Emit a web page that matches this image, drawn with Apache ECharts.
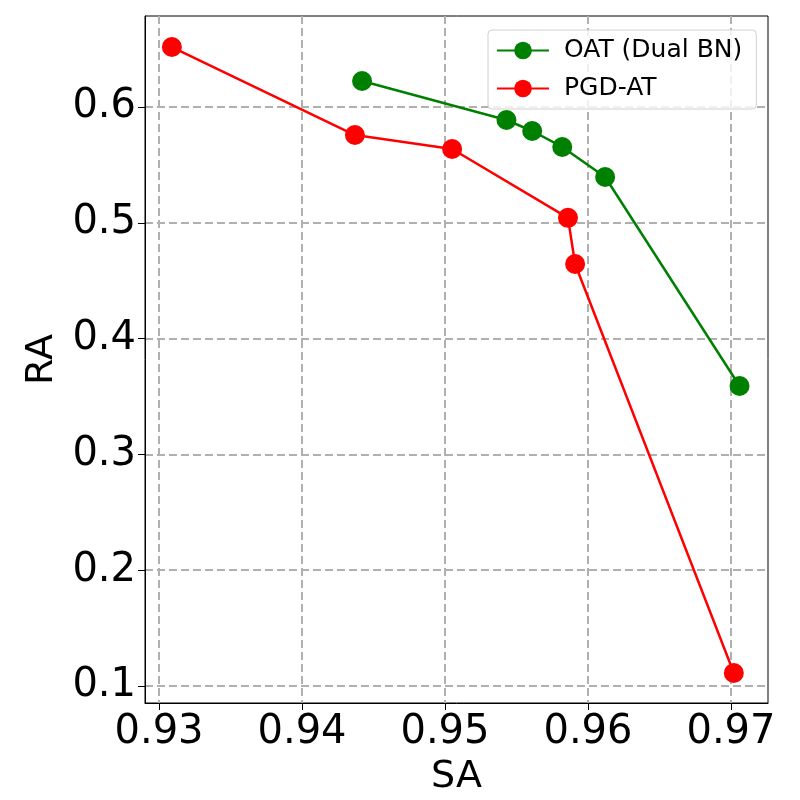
<!DOCTYPE html>
<html><head><meta charset="utf-8">
<script src="https://cdn.jsdelivr.net/npm/echarts@6/dist/echarts.min.js"></script>
<style>html,body{margin:0;padding:0;background:#fff}#c{width:800px;height:800px}</style>
</head><body><div id="c"></div>
<script>
const oatSA = [0.9442, 0.9543, 0.9561, 0.9582, 0.9612, 0.9706];
const oatRA = [0.6225, 0.5888, 0.5793, 0.5655, 0.5396, 0.3591];
const pgdSA = [0.9309, 0.9437, 0.9505, 0.9586, 0.9591, 0.9702];
const pgdRA = [0.6518, 0.5758, 0.5637, 0.5043, 0.4644, 0.1112];
const xTicks = [0.93, 0.94, 0.95, 0.96, 0.97];
const yTicks = [0.1, 0.2, 0.3, 0.4, 0.5, 0.6];
const seriesNames = ['OAT (Dual BN)', 'PGD-AT'];

const font = 'DejaVu Sans';
const chart = echarts.init(document.getElementById('c'), null, {renderer: 'canvas'});
const pair = (a, b) => a.map((v, i) => [v, b[i]]);
const gridStyle = {show: true, lineStyle: {color: '#b0b0b0', width: 2, type: [8, 4]}};
chart.setOption({
  animation: false,
  backgroundColor: '#fff',
  grid: {left: 145, right: 32, top: 16, bottom: 97, outerBoundsMode: 'none', containLabel: false,
         show: true, borderColor: '#000', borderWidth: 1, backgroundColor: 'transparent'},
  xAxis: {
    type: 'value', min: 0.92902, max: 0.97259,
    name: 'SA', nameLocation: 'middle', nameGap: 53,
    nameTextStyle: {fontFamily: font, fontSize: 38, color: '#000'},
    axisLine: {show: true, onZero: false, lineStyle: {color: '#000'}},
    axisTick: {show: true, length: 7, lineStyle: {color: '#000'}, customValues: xTicks},
    axisLabel: {fontFamily: font, fontSize: 40, color: '#000', margin: 10, customValues: xTicks, formatter: v => v.toFixed(2)},
    splitLine: gridStyle
  },
  yAxis: {
    type: 'value', min: 0.0853, max: 0.6786,
    name: 'RA', nameLocation: 'middle', nameGap: 76,
    nameTextStyle: {fontFamily: font, fontSize: 38, color: '#000'},
    axisLine: {show: true, onZero: false, lineStyle: {color: '#000'}},
    axisTick: {show: true, length: 7, lineStyle: {color: '#000'}, customValues: yTicks},
    axisLabel: {fontFamily: font, fontSize: 40, color: '#000', margin: 9, customValues: yTicks, formatter: v => v.toFixed(1)},
    splitLine: gridStyle
  },
  legend: {
    left: 488, top: 30, orient: 'vertical',
    data: seriesNames,
    itemWidth: 52, itemHeight: 22, itemGap: 13,
    padding: [8, 14, 8, 8],
    borderColor: '#d0d0d0', borderWidth: 1, borderRadius: 4,
    backgroundColor: 'rgba(255,255,255,0.8)',
    textStyle: {fontFamily: font, fontSize: 25, color: '#000', padding: [0, 0, 0, 10]}
  },
  series: [
    {name: seriesNames[0], type: 'line', data: pair(oatSA, oatRA), symbol: 'circle', symbolSize: 20,
     lineStyle: {color: 'green', width: 2.5}, itemStyle: {color: 'green'}},
    {name: seriesNames[1], type: 'line', data: pair(pgdSA, pgdRA), symbol: 'circle', symbolSize: 20,
     lineStyle: {color: 'red', width: 2.5}, itemStyle: {color: 'red'}}
  ]
});
</script></body></html>
